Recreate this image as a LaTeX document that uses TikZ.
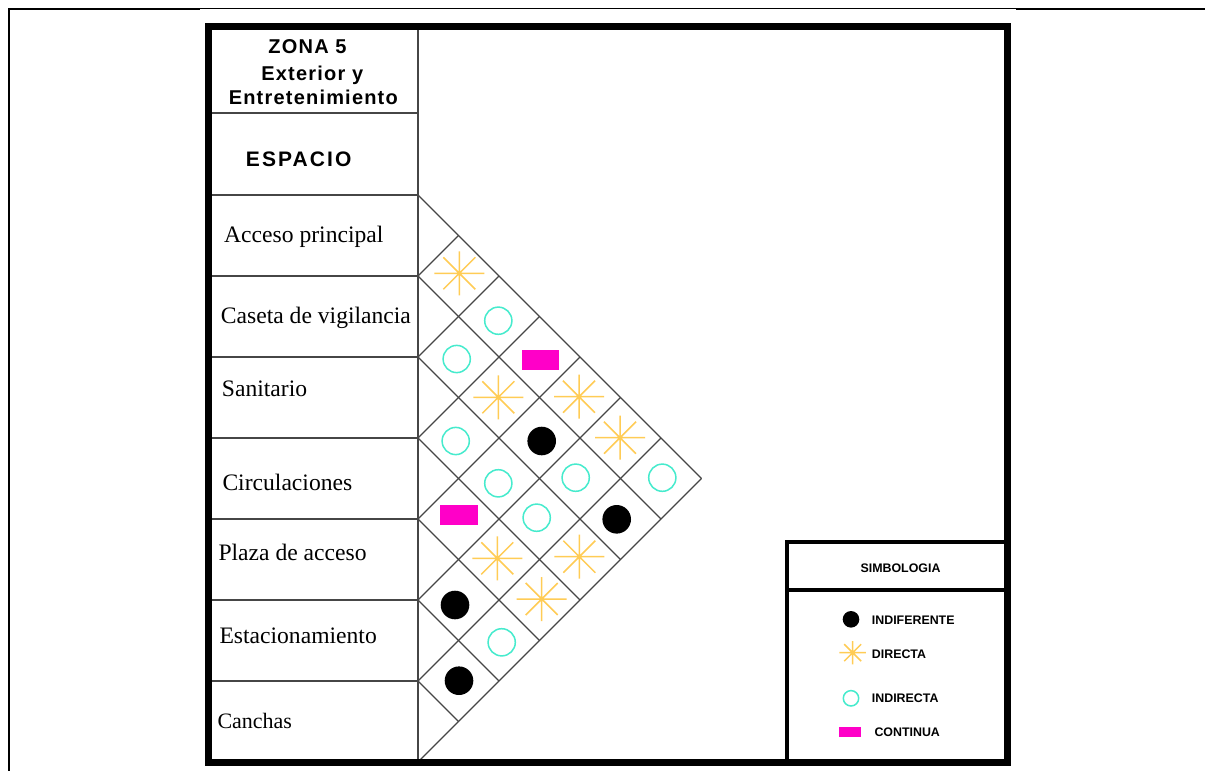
\documentclass[tikz,border=0pt]{standalone}
\usepackage{fontspec}
\setmainfont{Liberation Serif}
\newfontfamily\hdrfont{Liberation Sans}[LetterSpace=6]
\newfontfamily\espfont{Liberation Sans}[LetterSpace=10]
\newfontfamily\keyfont{Liberation Sans}
\definecolor{starcol}{RGB}{255,204,85}
\definecolor{turq}{RGB}{70,235,205}
\definecolor{relpink}{RGB}{255,0,200}
\definecolor{gridgray}{RGB}{70,70,70}
\begin{document}
\begin{tikzpicture}[x=1pt,y=-1pt,
  gridline/.style={draw=gridgray,line width=1.2pt},
  tline/.style={draw=gridgray,line width=1.3pt},
  frame/.style={draw=black,line width=7pt},
  keybox/.style={draw=black,line width=4pt},
  rowlabel/.style={anchor=base west,inner sep=0pt,font=\fontsize{23.6}{26}\selectfont},
  headtext/.style={anchor=base,inner sep=0pt,font=\hdrfont\bfseries\fontsize{20}{22}\selectfont},
  keytext/.style={anchor=base west,inner sep=0pt,font=\keyfont\bfseries\fontsize{12.4}{14}\selectfont},
  indif/.style={circle,fill=black,inner sep=0pt,minimum size=28.6pt},
  indir/.style={circle,draw=turq,line width=1.5pt,inner sep=0pt,minimum size=27.2pt},
  contin/.style={rectangle,fill=relpink,inner sep=0pt,minimum width=37.6pt,minimum height=20pt},
  pics/dstar/.style={code={
    \draw[starcol,line width=1.5pt]
      (-25,0) -- (25,0) (0,-22) -- (0,22)
      (-16,-16) -- (16,16) (-16,16) -- (16,-16);
  }}]
\useasboundingbox (0,0) rectangle (1205,771);
\fill[white] (0,0) rectangle (1205,771);

% page rules
\draw[line width=2pt] (8.7,771) -- (8.7,9) -- (200,9);
\draw[line width=1pt] (200,8) -- (1016,8);
\draw[line width=2pt] (1016,9) -- (1205,9);

% table of spaces
\draw[tline] (418,26) -- (418,762);
\draw[tline] (208,113) -- (418,113);
\foreach \k in {0,...,6}
  \draw[tline] (208,195+81*\k) -- (418,195+81*\k);

% relationship matrix grid
\foreach \k in {0,...,6} {
  \pgfmathsetmacro\yk{195+81*\k}
  \pgfmathsetmacro\td{(762-\yk)/2}
  \draw[gridline] (418,\yk) -- ++(\td,\td);
}
\foreach \k in {1,...,7} {
  \pgfmathsetmacro\yk{195+81*\k}
  \pgfmathsetmacro\tu{(\yk-195)/2}
  \draw[gridline] (418,\yk) -- ++(\tu,-\tu);
}

% outer frame and key box
\draw[frame] (208,26) rectangle (1007,762);
\draw[keybox] (787,762) -- (787,542) -- (1007,542);
\draw[keybox] (787,589.5) -- (1007,589.5);

% headings
\node[headtext] (zona) at (307.5,53.3) {ZONA 5};
\node[headtext] (zonb) at (312.3,80) {Exterior y};
\node[headtext] (zonc) at (313.3,104) {Entretenimiento};
\node[headtext,font=\espfont\bfseries\fontsize{21}{24}\selectfont] (esp) at (298.7,166.7) {ESPACIO};

% spaces
\node[rowlabel] (r1) at (224,242.3) {Acceso principal};
\node[rowlabel] (r2) at (220.7,323.3) {Caseta de vigilancia};
\node[rowlabel] (r3) at (221.7,396.7) {Sanitario};
\node[rowlabel] (r4) at (222.3,490) {Circulaciones};
\node[rowlabel] (r5) at (218.3,560) {Plaza de acceso};
\node[rowlabel] (r6) at (219.3,643.3) {Estacionamiento};
\node[rowlabel,font=\fontsize{22}{24}\selectfont] (r7) at (217.3,728.3) {Canchas};

% relationships
\pic (s12) at (459.3,273.3) {dstar};
\node[indir] (c13) at (498.3,320.7) {};
\node[indir] (c23) at (456.7,359) {};
\node[contin] (p14) at (540.5,359.7) {};
\pic (s24) at (498.3,397.3) {dstar};
\pic (s15) at (579,396.7) {dstar};
\node[indir] (c34) at (455.7,441) {};
\node[indif] (b25) at (541.7,441) {};
\pic (s16) at (620,437.7) {dstar};
\node[indir] (c35) at (498.3,483.3) {};
\node[indir] (c26) at (575.7,477.7) {};
\node[indir] (c17) at (662.3,477.7) {};
\node[contin] (p45) at (458.8,514.7) {};
\node[indir] (c36) at (536.7,517.7) {};
\node[indif] (b27) at (616.7,519.3) {};
\pic (s46) at (497.3,558.3) {dstar};
\pic (s37) at (579.3,556.7) {dstar};
\node[indif] (b56) at (455,605) {};
\pic (s47) at (541.7,599) {dstar};
\node[indir] (c57) at (501.7,642.3) {};
\node[indif] (b67) at (459,680.7) {};

% key
\node[keytext,anchor=base,font=\keyfont\bfseries\fontsize{12.4}{14}\selectfont] (kt) at (900.5,572.7) {SIMBOLOGIA};
\node[indif,minimum size=16.6pt] (k1) at (851,619.3) {};
\node[keytext] (k1t) at (871.7,624.5) {INDIFERENTE};
\pic[scale=0.53] (k2) at (852.7,652.7) {dstar};
\node[keytext] (k2t) at (871.7,658.3) {DIRECTA};
\node[indir,minimum size=15.4pt] (k3) at (851,698.3) {};
\node[keytext] (k3t) at (871.7,702.7) {INDIRECTA};
\node[contin,minimum width=22pt,minimum height=10.7pt] (k4) at (850,732) {};
\node[keytext] (k4t) at (874.3,736.5) {CONTINUA};
\end{tikzpicture}
\end{document}
